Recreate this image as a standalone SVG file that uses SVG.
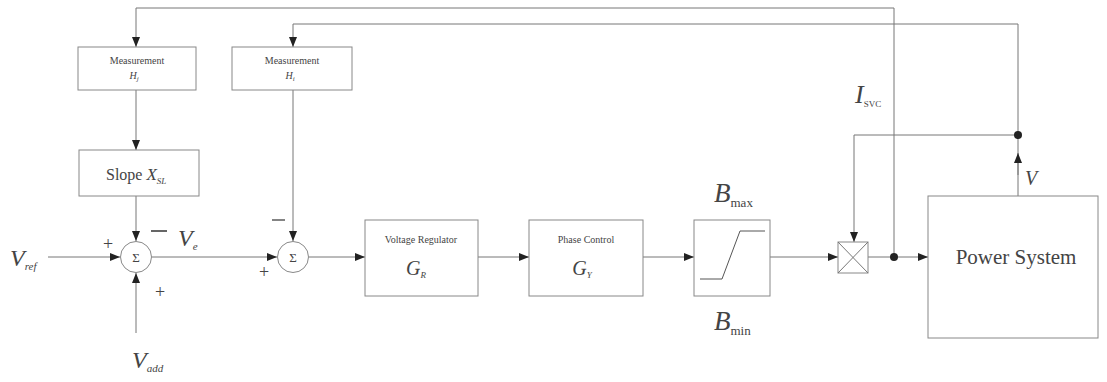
<svg xmlns="http://www.w3.org/2000/svg" width="1107" height="382" viewBox="0 0 1107 382">
<style>
.box{fill:#fff;stroke:#888;stroke-width:1}
.ln{fill:none;stroke:#777;stroke-width:1}
.ar{fill:none;stroke:#777;stroke-width:1;marker-end:url(#ah)}
.t{font-family:"Liberation Serif",serif;fill:#444}
.i{font-style:italic}
.dot{fill:#222}
</style>
<defs>
<marker id="ah" markerWidth="10" markerHeight="8" refX="10" refY="4" orient="auto" markerUnits="userSpaceOnUse">
<path d="M0,0 L10,4 L0,8 Z" fill="#222"/>
</marker>
</defs>
<rect width="1107" height="382" fill="#fff"/>
<g id="connectors">
<polyline class="ar" points="894,257 894,8 136,8 136,47"/>
<polyline class="ar" points="1018,135 1018,24 293,24 293,47"/>
<line class="ar" x1="136" y1="90" x2="136" y2="150"/>
<line class="ar" x1="136" y1="196" x2="136" y2="241"/>
<line class="ar" x1="48" y1="257" x2="120" y2="257"/>
<line class="ar" x1="136" y1="333" x2="136" y2="273"/>
<line class="ar" x1="152" y1="257" x2="277" y2="257"/>
<line class="ar" x1="293" y1="90" x2="293" y2="241"/>
<line class="ar" x1="309" y1="257" x2="365" y2="257"/>
<line class="ar" x1="478" y1="257" x2="529" y2="257"/>
<line class="ar" x1="643" y1="257" x2="694" y2="257"/>
<line class="ar" x1="770" y1="257" x2="838" y2="257"/>
<line class="ln" x1="868" y1="257" x2="894" y2="257"/>
<line class="ar" x1="894" y1="257" x2="928" y2="257"/>
<polyline class="ar" points="1018,135 854,135 854,242"/>
<line class="ln" x1="1018" y1="196" x2="1018" y2="135"/>
<line class="ar" x1="1018" y1="175" x2="1018" y2="153"/>
<circle class="dot" cx="894" cy="257" r="4"/>
<circle class="dot" cx="1018" cy="135" r="4"/>
</g>
<g id="meas1">
<rect class="box" x="78" y="47" width="118" height="43"/>
<text class="t" x="137" y="64" font-size="10" text-anchor="middle">Measurement</text>
<text class="t i" x="134" y="79" font-size="10" text-anchor="middle">H<tspan font-size="7" dy="2">j</tspan></text>
</g>
<g id="meas2">
<rect class="box" x="232" y="47" width="120" height="43"/>
<text class="t" x="292" y="64" font-size="10" text-anchor="middle">Measurement</text>
<text class="t i" x="290" y="79" font-size="10" text-anchor="middle">H<tspan font-size="7" dy="2">i</tspan></text>
</g>
<g id="slope">
<rect class="box" x="79" y="150" width="120" height="46"/>
<text class="t" x="106" y="180" font-size="16">Slope <tspan class="i" font-size="17">X</tspan><tspan class="i" font-size="9" dy="4">SL</tspan></text>
</g>
<g id="sum1">
<circle class="box" cx="136" cy="257" r="15.5"/>
<text class="t" x="136" y="262" font-size="13" text-anchor="middle">Σ</text>
<text class="t" x="108" y="250" font-size="18" text-anchor="middle">+</text>
<text class="t" x="160" y="298" font-size="18" text-anchor="middle">+</text>
<line x1="151" y1="231" x2="167" y2="231" stroke="#333" stroke-width="1.5"/>
<text class="t i" x="178" y="246" font-size="24">V<tspan font-size="11" dy="4">e</tspan></text>
<text class="t i" x="10" y="266" font-size="24">V<tspan font-size="11" dy="4">ref</tspan></text>
<text class="t i" x="132" y="368" font-size="24">V<tspan font-size="11" dy="4">add</tspan></text>
</g>
<g id="sum2">
<circle class="box" cx="293" cy="257" r="15.5"/>
<text class="t" x="293" y="262" font-size="13" text-anchor="middle">Σ</text>
<line x1="272" y1="220" x2="285" y2="220" stroke="#333" stroke-width="1.2"/>
<text class="t" x="264" y="278" font-size="18" text-anchor="middle">+</text>
</g>
<g id="regulator">
<rect class="box" x="365" y="220" width="113" height="76"/>
<text class="t" x="421" y="243" font-size="10" text-anchor="middle">Voltage Regulator</text>
<text class="t i" x="416" y="275" font-size="20" text-anchor="middle">G<tspan font-size="9" dy="3">R</tspan></text>
</g>
<g id="phase">
<rect class="box" x="529" y="220" width="114" height="76"/>
<text class="t" x="586" y="243" font-size="10" text-anchor="middle">Phase Control</text>
<text class="t i" x="582" y="275" font-size="20" text-anchor="middle">G<tspan font-size="9" dy="3">Y</tspan></text>
</g>
<g id="limiter">
<rect class="box" x="694" y="220" width="76" height="76"/>
<polyline fill="none" stroke="#555" stroke-width="1" points="700,279 722,279 740,231 765,231"/>
<text class="t i" x="714" y="202" font-size="27">B<tspan font-style="normal" font-size="13" dy="5">max</tspan></text>
<text class="t i" x="714" y="330" font-size="27">B<tspan font-style="normal" font-size="13" dy="5">min</tspan></text>
</g>
<g id="multiplier">
<rect class="box" x="838" y="242" width="30" height="31"/>
<line class="ln" x1="838" y1="242" x2="868" y2="273"/>
<line class="ln" x1="868" y1="242" x2="838" y2="273"/>
</g>
<g id="power">
<rect class="box" x="928" y="196" width="170" height="142"/>
<text class="t" x="1016" y="264" font-size="21" text-anchor="middle">Power System</text>
<text class="t i" x="855" y="103" font-size="26">I<tspan font-style="normal" font-size="9" dy="4">SVC</tspan></text>
<text class="t i" x="1025" y="185" font-size="20">V</text>
</g>
</svg>
